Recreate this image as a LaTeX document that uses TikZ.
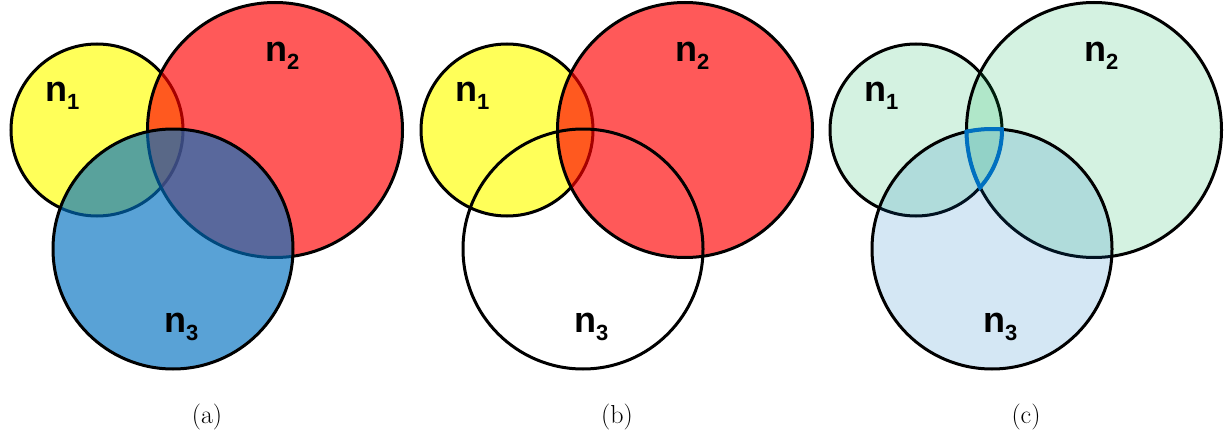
\documentclass[tikz,border=0pt]{standalone}
\usepackage{fontspec}
\setsansfont{Liberation Sans}
\usepackage{xcolor}
\definecolor{cYellow}{HTML}{FFFF00}
\definecolor{cRed}{HTML}{FF0000}
\definecolor{cBlue}{HTML}{0070C0}
\definecolor{cGreen}{HTML}{00B050}
\usepackage{tikz}
\newcommand\nlabel[1]{n\raisebox{-8pt}{\fontsize{22}{22}\selectfont #1}}
\tikzset{
  set-base/.style={draw=black,line width=3pt},
  set-yellow/.style={set-base,fill=cYellow,fill opacity=0.65},
  set-red/.style={set-base,fill=cRed,fill opacity=0.65},
  set-blue/.style={set-base,fill=cBlue,fill opacity=0.65},
  set-empty/.style={set-base},
  set-green-light/.style={set-base,fill=cGreen,fill opacity=0.17},
  set-blue-light/.style={set-base,fill=cBlue,fill opacity=0.17},
  set-label/.style={font=\fontsize{36}{40}\selectfont\sffamily\bfseries,
    anchor=base west,inner sep=0pt},
  sub-caption/.style={font=\fontsize{26}{30}\selectfont,anchor=base,inner sep=0pt},
  tri-edge/.style={draw=cBlue,line width=4pt},
}

\begin{document}
\begin{tikzpicture}[x=1pt,y=-1pt]
  \useasboundingbox (0,0) rectangle (1227,436);
  % centres of the three sets in each panel
  \foreach \p/\dx in {a/0, b/410, c/819} {
    \coordinate (\p-1) at (97+\dx,130);
    \coordinate (\p-2) at (275+\dx,130);
    \coordinate (\p-3) at (173+\dx,249);
  }
  % (a)
  \draw[set-yellow] (a-1) circle[radius=86pt];
  \draw[set-red] (a-2) circle[radius=127.5pt];
  \draw[set-blue] (a-3) circle[radius=120pt];
  % (b)
  \draw[set-yellow] (b-1) circle[radius=86pt];
  \draw[set-red] (b-2) circle[radius=127.5pt];
  \draw[set-empty] (b-3) circle[radius=120pt];
  % (c)
  \draw[set-green-light] (c-1) circle[radius=86pt];
  \draw[set-green-light] (c-2) circle[radius=127.5pt];
  \draw[set-blue-light] (c-3) circle[radius=120pt];
  % edge of n1 & n2 & n3
  \begin{scope}
    \clip (c-1) circle[radius=88pt];
    \clip (c-2) circle[radius=129.5pt];
    \draw[tri-edge] (c-3) circle[radius=120pt];
  \end{scope}
  \begin{scope}
    \clip (c-2) circle[radius=129.5pt];
    \clip (c-3) circle[radius=122pt];
    \draw[tri-edge] (c-1) circle[radius=86pt];
  \end{scope}
  \begin{scope}
    \clip (c-1) circle[radius=88pt];
    \clip (c-3) circle[radius=122pt];
    \draw[tri-edge] (c-2) circle[radius=127.5pt];
  \end{scope}
  % labels
  \foreach \p/\dx in {a/0, b/410, c/819} {
    \node[set-label] (\p-n1) at (45+\dx,102) {\nlabel{1}};
    \node[set-label] (\p-n2) at (265+\dx,62) {\nlabel{2}};
    \node[set-label] (\p-n3) at (164+\dx,332) {\nlabel{3}};
    \node[sub-caption] (\p-cap) at (207+\dx,423) {(\p)};
  }
\end{tikzpicture}
\end{document}
